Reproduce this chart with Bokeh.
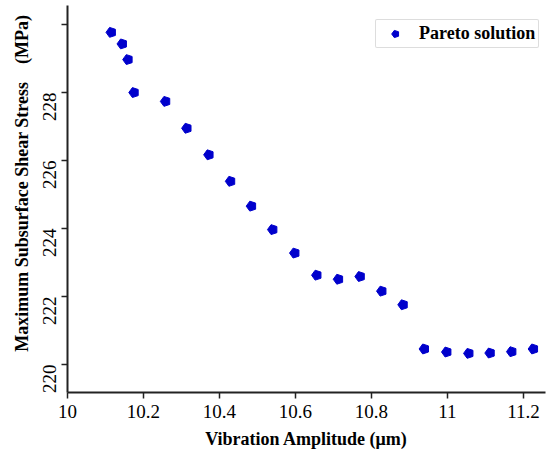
import math
from bokeh.plotting import figure
from bokeh.models import Range1d, FixedTicker, Legend, LegendItem
from bokeh.embed import file_html
from bokeh.resources import INLINE

amplitude = [10.115, 10.144, 10.159, 10.175, 10.258, 10.314, 10.372, 10.429, 10.484,
             10.540, 10.598, 10.656, 10.713, 10.770, 10.827, 10.883, 10.939, 10.998,
             11.056, 11.112, 11.169, 11.226]
stress = [229.77, 229.43, 228.97, 228.00, 227.74, 226.95, 226.17, 225.39, 224.66,
          223.97, 223.28, 222.63, 222.51, 222.59, 222.16, 221.76, 220.46, 220.37,
          220.33, 220.34, 220.38, 220.46]
x_ticks = [10, 10.2, 10.4, 10.6, 10.8, 11, 11.2]
y_ticks = [220, 222, 224, 226, 228, 230]

SERIF = "Liberation Serif"

p = figure(width=550, height=457, output_backend="svg", toolbar_location=None,
           x_range=Range1d(10, 11.258), y_range=Range1d(219.18, 230.56),
           min_border_left=67, min_border_right=5, min_border_top=5,
           min_border_bottom=65)
p.outline_line_color = None
p.grid.visible = False
p.background_fill_color = "white"

r = p.ngon(x=amplitude, y=stress, radius=5.2, radius_units="screen", n=5,
           angle=math.pi / 2, fill_color="#0000CC", line_color="#0000CC")

legend = Legend(items=[LegendItem(label="Pareto solution", renderers=[r])],
                location=(308, 344), padding=3, margin=0, glyph_width=32,
                glyph_height=19, label_height=19, label_standoff=8,
                label_text_font=SERIF, label_text_font_style="bold",
                label_text_font_size="18px", label_text_color="black",
                border_line_color="#bbbbbb", border_line_width=1,
                border_radius=2, background_fill_alpha=1)
p.add_layout(legend)

for ax in (p.xaxis[0], p.yaxis[0]):
    ax.axis_line_width = 2
    ax.axis_line_color = "#222222"
    ax.major_tick_line_color = "#222222"
    ax.major_tick_line_width = 1.5
    ax.major_tick_in = 0
    ax.major_tick_out = 6
    ax.minor_tick_line_color = None
    ax.major_label_text_font = SERIF
    ax.major_label_text_font_size = "19px"
    ax.major_label_text_color = "black"
    ax.axis_label_text_font = SERIF
    ax.axis_label_text_font_style = "bold"
    ax.axis_label_text_font_size = "18px"
    ax.axis_label_text_color = "black"

p.xaxis.ticker = FixedTicker(ticks=x_ticks)
p.xaxis.major_label_overrides = {10: "10", 11: "11"}
p.xaxis.major_label_standoff = 6
p.xaxis.axis_label = "Vibration Amplitude (\u03bcm)"
p.xaxis.axis_label_standoff = 8

p.yaxis.ticker = FixedTicker(ticks=y_ticks)
p.yaxis.major_label_overrides = {230: ""}
p.yaxis.major_label_orientation = math.pi / 2
p.yaxis.major_label_standoff = 12
p.yaxis.axis_label = ("\u00a0" * 7) + "Maximum Subsurface Shear Stress\u00a0\u00a0\u00a0\u00a0(MPa)"
p.yaxis.axis_label_standoff = 2

open("out.html", "w").write(file_html(p, INLINE))
